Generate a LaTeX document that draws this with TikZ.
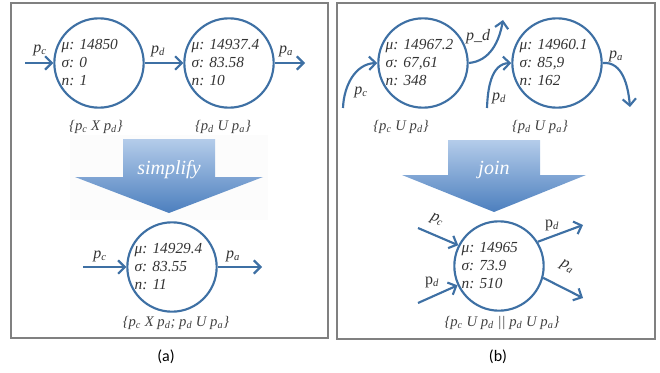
\documentclass[tikz,border=0pt]{standalone}
\usepackage{fontspec}
\setmainfont{Liberation Serif}
\newfontfamily\capfont{Carlito}
\usepackage{tikz}
\usetikzlibrary{arrows.meta}
\definecolor{cblue}{HTML}{3E70A4}
\definecolor{atop}{HTML}{B4CCEA}
\definecolor{abot}{HTML}{4C7FBE}
\newcommand\psub[1]{\textit{p}\textsubscript{\textit{#1}}}
\newcommand\rsub[1]{\textup{p}\textsubscript{\textit{#1}}}

\begin{document}
\begin{tikzpicture}[
  x=0.75pt, y=0.75pt,
  >={Straight Barb[length=5pt,width=10pt]},
  st/.style={draw=cblue, line width=1.6pt, circle, minimum size=67pt, inner sep=0pt},
  val/.style={text width=56pt, align=left, inner sep=0pt,
              font=\fontsize{11.5}{13.5}\selectfont\itshape\frenchspacing, text=black!80},
  arr/.style={->, draw=cblue, line width=1.6pt},
  lbl/.style={font=\fontsize{12}{13}\selectfont\itshape, text=black!80, inner sep=1pt},
  grp/.style={font=\fontsize{11}{12}\selectfont\itshape, text=black!75},
  frm/.style={draw=black!50, line width=0.8pt},
  bigarr/.style={top color=atop, bottom color=abot},
  bigtxt/.style={font=\fontsize{15}{16}\selectfont\itshape, text=white},
  captxt/.style={font=\capfont\fontsize{12}{14}\selectfont},
]
\useasboundingbox (0,0) rectangle (660,372);
% Frames
\draw[frm] (11,369) rectangle (328,34);
\draw[frm] (337,369) rectangle (655,33);

% (a) two states before
\node[st] (c1) at (99,309) {};
\node[val] (c1t) at (c1) {μ: 14850\\σ: 0\\n: 1};
\node[st] (c2) at (229,309) {};
\node[val] (c2t) at (c2) {μ: 14937.4\\σ: 83.58\\n: 10};
\coordinate (a0) at (25,309);
\coordinate (a1) at (305,309);
\draw[arr] (a0) -- (c1);
\draw[arr] (c1) -- (c2);
\draw[arr] (c2) -- (a1);
\node[lbl] at (40,322) {\psub{c}};
\node[lbl] at (158,321) {\psub{d}};
\node[lbl] at (286,321) {\psub{a}};
\node[grp] (g1) at (96,245) {\{\psub{c} X \psub{d}\}};
\node[grp] (g2) at (223,245) {\{\psub{d} U \psub{a}\}};

% (a) simplify arrow
\fill[black!1] (70,237) rectangle (268,152);
\shade[bigarr] (123,233) -- (215,233) -- (215,195) -- (263,195) -- (169,159)
  -- (75,195) -- (123,195) -- cycle;
\node[bigtxt] (simp) at (169,202) {simplify};

% (a) merged state
\node[st] (c3) at (172,105) {};
\node[val] (c3t) at (c3) {μ: 14929.4\\σ: 83.55\\n: 11};
\coordinate (a2) at (83,105);
\coordinate (a3) at (262,105);
\draw[arr] (a2) -- (c3);
\draw[arr] (c3) -- (a3);
\node[lbl] at (100,116) {\psub{c}};
\node[lbl] at (233,116) {\psub{a}};
\node[grp] (g3) at (176,49) {\{\psub{c} X \psub{d}; \psub{d} U \psub{a}\}};
\node[captxt] (capa) at (166,15) {(a)};

% (b) two states before
\node[st] (d1) at (423,309) {};
\node[val] (d1t) at (d1) {μ: 14967.2\\σ: 67,61\\n: 348};
\node[st] (d2) at (557,309) {};
\node[val] (d2t) at (d2) {μ: 14960.1\\σ: 85,9\\n: 162};
\coordinate (b0) at (343,264);
\coordinate (b1) at (503,352);
\coordinate (b2) at (487,264);
\coordinate (b3) at (630,265);
\draw[arr] (b0) to[out=88, in=182] (d1.west);
\draw[arr] (d1.east) to[out=5, in=-100] (b1);
\draw[arr] (b2) to[out=88, in=182] (d2.west);
\draw[arr] (d2.east) to[out=5, in=95] (b3);
\node[lbl] at (361,280) {\psub{c}};
\node[lbl] at (478,335) {p\_d};
\node[lbl] at (499,274) {\psub{d}};
\node[lbl] at (616,316) {\psub{a}};
\node[grp] (h1) at (401,245) {\{\psub{c} U \psub{d}\}};
\node[grp] (h2) at (540,245) {\{\psub{d} U \psub{a}\}};

% (b) join arrow
\shade[bigarr] (448,232) -- (540,232) -- (540,197) -- (586,197) -- (494,160)
  -- (402,197) -- (448,197) -- cycle;
\node[bigtxt] (join) at (494,202) {join};

% (b) joined state
\node[st] (d3) at (499,106) {};
\node[val] (d3t) at (d3) {μ: 14965\\σ: 73.9\\n: 510};
\coordinate (b4) at (418,144);
\coordinate (b5) at (418,69);
\coordinate (b6) at (583,147);
\coordinate (b7) at (583,74);
\draw[arr] (b4) -- (d3.153);
\draw[arr] (b5) -- (d3.205);
\draw[arr] (d3.32) -- (b6);
\draw[arr] (d3.-15) -- (b7);
\node[lbl, rotate=-23] at (437,152) {\psub{c}};
\node[lbl] at (432,90) {\rsub{d}};
\node[lbl] at (552,147) {\rsub{d}};
\node[lbl, rotate=-28] at (567,105) {\psub{a}};
\node[grp] (h3) at (502,49) {\{\psub{c} U \psub{d} || \psub{d} U \psub{a}\}};
\node[captxt] (capb) at (498,15) {(b)};
\end{tikzpicture}
\end{document}
